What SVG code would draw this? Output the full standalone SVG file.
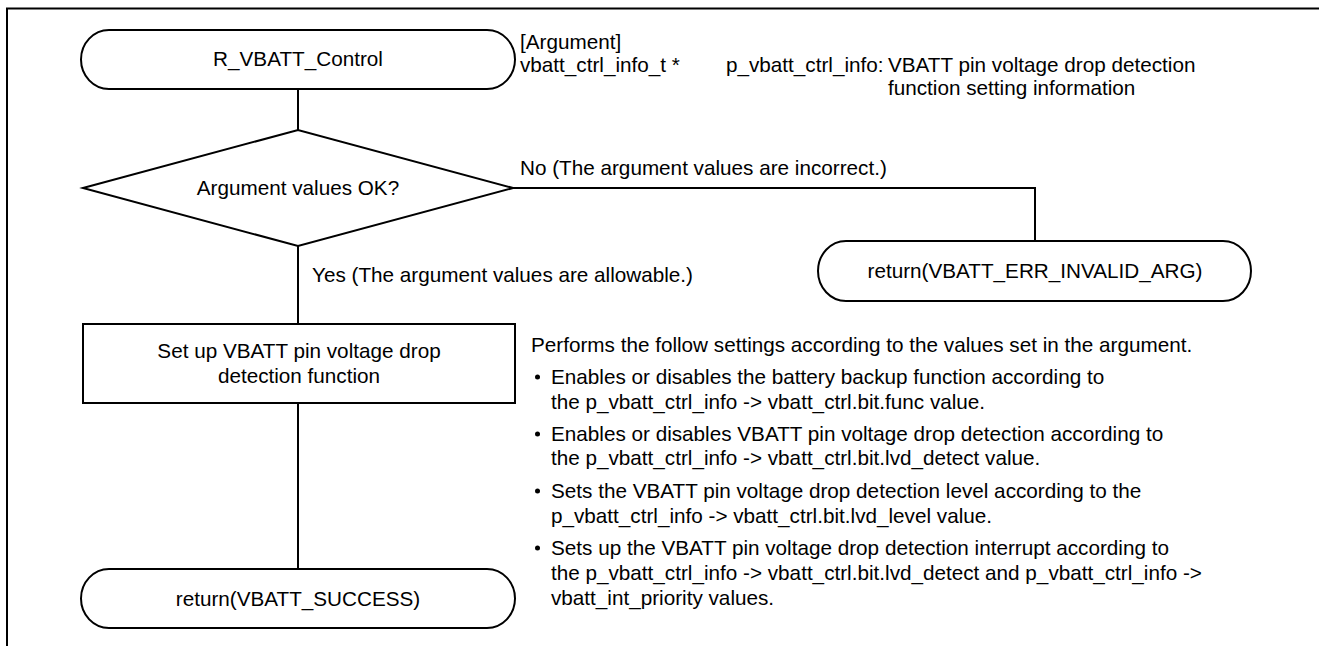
<svg xmlns="http://www.w3.org/2000/svg" width="1319" height="646" viewBox="0 0 1319 646">
<style>
.s{fill:#fff;stroke:#000;stroke-width:2}
.c{fill:none;stroke:#000;stroke-width:2}
.t{font-family:"Liberation Sans",Arial,sans-serif;font-size:20.7px;fill:#000}
.m{text-anchor:middle}
</style>
<rect width="1319" height="646" fill="#fff"/>
<g id="frame"><path class="c" d="M7 646 V8.5 H1319" stroke-width="2.5"/></g>
<g id="connectors">
<path class="c" d="M298 89 V130"/>
<path class="c" d="M298 246 V324"/>
<path class="c" d="M298 403 V569"/>
<path class="c" d="M513 188 H1035 V241"/>
</g>
<g id="start">
<rect class="s" x="81" y="30" width="434" height="59" rx="28" ry="29.5"/>
<text class="t m" x="298" y="66">R_VBATT_Control</text>
</g>
<g id="args">
<text class="t" x="520" y="49">[Argument]</text>
<text class="t" x="520" y="72">vbatt_ctrl_info_t *</text>
<text class="t" x="726" y="72">p_vbatt_ctrl_info:</text>
<text class="t" x="888" y="72">VBATT pin voltage drop detection</text>
<text class="t" x="888" y="95">function setting information</text>
</g>
<g id="decision">
<polygon class="s" points="83,188 298,130 513,188 298,246"/>
<text class="t m" x="298" y="195">Argument values OK?</text>
</g>
<g id="labels">
<text class="t" x="520" y="175">No (The argument values are incorrect.)</text>
<text class="t" x="312" y="282">Yes (The argument values are allowable.)</text>
</g>
<g id="error">
<rect class="s" x="818" y="241" width="433" height="60" rx="28" ry="30"/>
<text class="t m" x="1035" y="278">return(VBATT_ERR_INVALID_ARG)</text>
</g>
<g id="setup">
<rect class="s" x="83" y="324" width="432" height="79"/>
<text class="t m" x="299" y="358">Set up VBATT pin voltage drop</text>
<text class="t m" x="299" y="383">detection function</text>
</g>
<g id="success">
<rect class="s" x="81" y="569" width="434" height="59" rx="28" ry="29.5"/>
<text class="t m" x="298" y="606">return(VBATT_SUCCESS)</text>
</g>
<g id="notes">
<text class="t" x="531" y="352">Performs the follow settings according to the values set in the argument.</text>
<circle cx="537.5" cy="377" r="2.5"/>
<text class="t" x="551" y="384">Enables or disables the battery backup function according to</text>
<text class="t" x="551" y="409">the p_vbatt_ctrl_info -&gt; vbatt_ctrl.bit.func value.</text>
<circle cx="537.5" cy="434" r="2.5"/>
<text class="t" x="551" y="441">Enables or disables VBATT pin voltage drop detection according to</text>
<text class="t" x="551" y="465">the p_vbatt_ctrl_info -&gt; vbatt_ctrl.bit.lvd_detect value.</text>
<circle cx="537.5" cy="491" r="2.5"/>
<text class="t" x="551" y="498">Sets the VBATT pin voltage drop detection level according to the</text>
<text class="t" x="551" y="523">p_vbatt_ctrl_info -&gt; vbatt_ctrl.bit.lvd_level value.</text>
<circle cx="537.5" cy="548" r="2.5"/>
<text class="t" x="551" y="555">Sets up the VBATT pin voltage drop detection interrupt according to</text>
<text class="t" x="551" y="580">the p_vbatt_ctrl_info -&gt; vbatt_ctrl.bit.lvd_detect and p_vbatt_ctrl_info -&gt;</text>
<text class="t" x="551" y="605">vbatt_int_priority values.</text>
</g>
</svg>
